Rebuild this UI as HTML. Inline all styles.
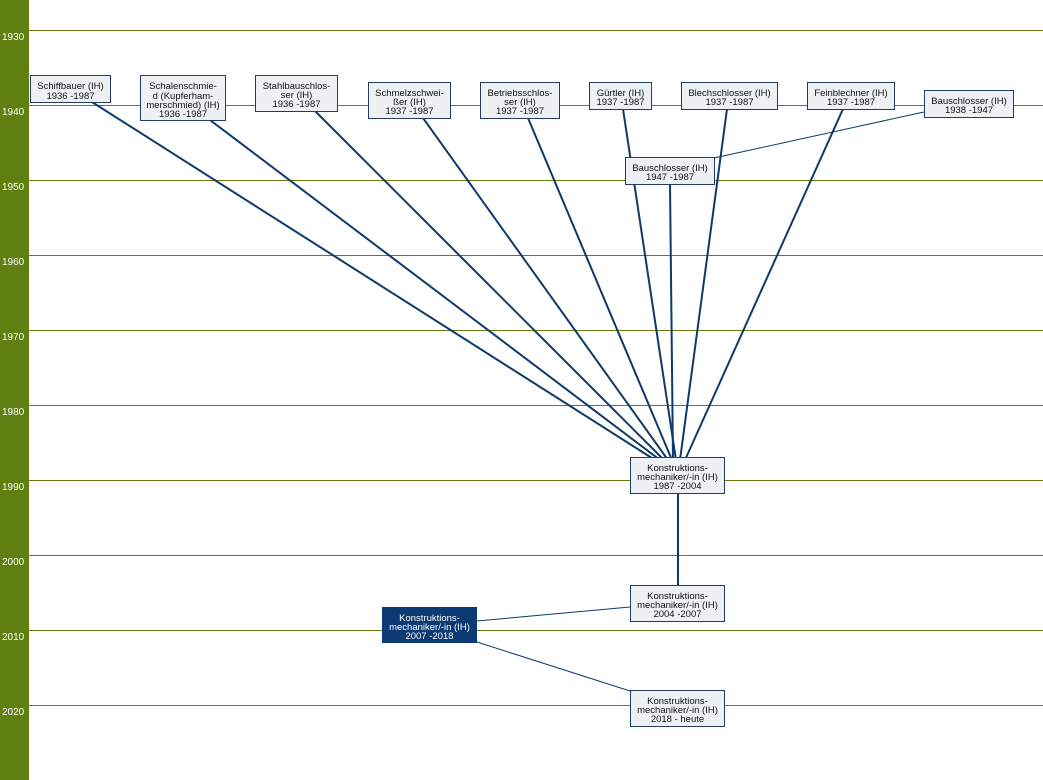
<!DOCTYPE html>
<html><head><meta charset="utf-8"><style>
body{margin:0;background:#fff;}
svg{display:block;font-family:"Liberation Sans",sans-serif;}
.b{fill:#eef0f4;stroke:#1e3c64;stroke-width:1}
.t{font-size:9.5px;fill:#111;text-anchor:middle}
.y{font-size:10px;fill:#fff}
.l{stroke:#0d3a6b;stroke-width:2;fill:none}
.s{stroke:#0d3a6b;stroke-width:1;fill:none}
</style></head><body>
<svg width="1043" height="780" viewBox="0 0 1043 780">
<rect x="0" y="0" width="29" height="780" fill="#5f7f10"/>
<g stroke="#6e7a10" stroke-width="1">
<line x1="29" y1="30.5" x2="1043" y2="30.5"/><line x1="29" y1="105.5" x2="1043" y2="105.5"/>
<line x1="29" y1="180.5" x2="1043" y2="180.5"/><line x1="29" y1="255.5" x2="1043" y2="255.5"/>
<line x1="29" y1="330.5" x2="1043" y2="330.5"/><line x1="29" y1="405.5" x2="1043" y2="405.5"/>
<line x1="29" y1="480.5" x2="1043" y2="480.5"/><line x1="29" y1="555.5" x2="1043" y2="555.5"/>
<line x1="29" y1="630.5" x2="1043" y2="630.5"/><line x1="29" y1="705.5" x2="1043" y2="705.5"/>
</g>
<g class="y">
<text x="2" y="40">1930</text><text x="2" y="115">1940</text><text x="2" y="190">1950</text>
<text x="2" y="265">1960</text><text x="2" y="340">1970</text><text x="2" y="415">1980</text>
<text x="2" y="490">1990</text><text x="2" y="565">2000</text><text x="2" y="640">2010</text>
<text x="2" y="715">2020</text>
</g>
<line class="l" x1="92" y1="102" x2="655" y2="460"/>
<line class="l" x1="210" y1="120" x2="660" y2="460"/>
<line class="l" x1="315" y1="111" x2="664" y2="460"/>
<line class="l" x1="423" y1="118" x2="668" y2="460"/>
<line class="l" x1="528" y1="118" x2="672" y2="460"/>
<line class="l" x1="623" y1="109" x2="676" y2="460"/>
<line class="l" x1="670" y1="184" x2="673" y2="460"/>
<line class="l" x1="727" y1="109" x2="680" y2="460"/>
<line class="l" x1="843" y1="109" x2="685" y2="460"/>
<line class="s" x1="924" y1="112" x2="714" y2="158"/>
<line class="l" x1="678" y1="493" x2="678" y2="585"/>
<line class="s" x1="477" y1="621" x2="630" y2="607"/>
<line class="s" x1="477" y1="642" x2="630" y2="691"/>

<rect class="b" x="30.5" y="75.5" width="80" height="27"/>
<text class="t" x="70.5" y="89">Schiffbauer (IH)</text><text class="t" x="70.5" y="99">1936 -1987</text>
<rect class="b" x="140.5" y="75.5" width="85" height="45"/>
<text class="t" x="183" y="89">Schalenschmie-</text><text class="t" x="183" y="99">d (Kupferham-</text><text class="t" x="183" y="108">merschmied) (IH)</text><text class="t" x="183" y="117">1936 -1987</text>
<rect class="b" x="255.5" y="75.5" width="82" height="36"/>
<text class="t" x="296.5" y="89">Stahlbauschlos-</text><text class="t" x="296.5" y="98">ser (IH)</text><text class="t" x="296.5" y="107">1936 -1987</text>
<rect class="b" x="368.5" y="82.5" width="82" height="36"/>
<text class="t" x="409.5" y="96">Schmelzschwei-</text><text class="t" x="409.5" y="105">ßer (IH)</text><text class="t" x="409.5" y="114">1937 -1987</text>
<rect class="b" x="480.5" y="82.5" width="79" height="36"/>
<text class="t" x="520" y="96">Betriebsschlos-</text><text class="t" x="520" y="105">ser (IH)</text><text class="t" x="520" y="114">1937 -1987</text>
<rect class="b" x="589.5" y="82.5" width="62" height="27"/>
<text class="t" x="620.5" y="96">Gürtler (IH)</text><text class="t" x="620.5" y="105">1937 -1987</text>
<rect class="b" x="681.5" y="82.5" width="96" height="27"/>
<text class="t" x="729.5" y="96">Blechschlosser (IH)</text><text class="t" x="729.5" y="105">1937 -1987</text>
<rect class="b" x="807.5" y="82.5" width="87" height="27"/>
<text class="t" x="851" y="96">Feinblechner (IH)</text><text class="t" x="851" y="105">1937 -1987</text>
<rect class="b" x="924.5" y="90.5" width="89" height="27"/>
<text class="t" x="969" y="104">Bauschlosser (IH)</text><text class="t" x="969" y="113">1938 -1947</text>
<rect class="b" x="625.5" y="157.5" width="89" height="27"/>
<text class="t" x="670" y="171">Bauschlosser (IH)</text><text class="t" x="670" y="180">1947 -1987</text>
<rect class="b" x="630.5" y="457.5" width="94" height="36"/>
<text class="t" x="677.5" y="471">Konstruktions-</text><text class="t" x="677.5" y="480">mechaniker/-in (IH)</text><text class="t" x="677.5" y="489">1987 -2004</text>
<rect class="b" x="630.5" y="585.5" width="94" height="36"/>
<text class="t" x="677.5" y="599">Konstruktions-</text><text class="t" x="677.5" y="608">mechaniker/-in (IH)</text><text class="t" x="677.5" y="617">2004 -2007</text>
<rect x="382" y="607" width="95" height="36" fill="#0d3a73"/>
<text class="t" x="429.5" y="621" style="fill:#fff">Konstruktions-</text><text class="t" x="429.5" y="630" style="fill:#fff">mechaniker/-in (IH)</text><text class="t" x="429.5" y="639" style="fill:#fff">2007 -2018</text>
<rect class="b" x="630.5" y="690.5" width="94" height="36"/>
<text class="t" x="677.5" y="704">Konstruktions-</text><text class="t" x="677.5" y="713">mechaniker/-in (IH)</text><text class="t" x="677.5" y="722">2018 - heute</text>
</svg>
</body></html>
